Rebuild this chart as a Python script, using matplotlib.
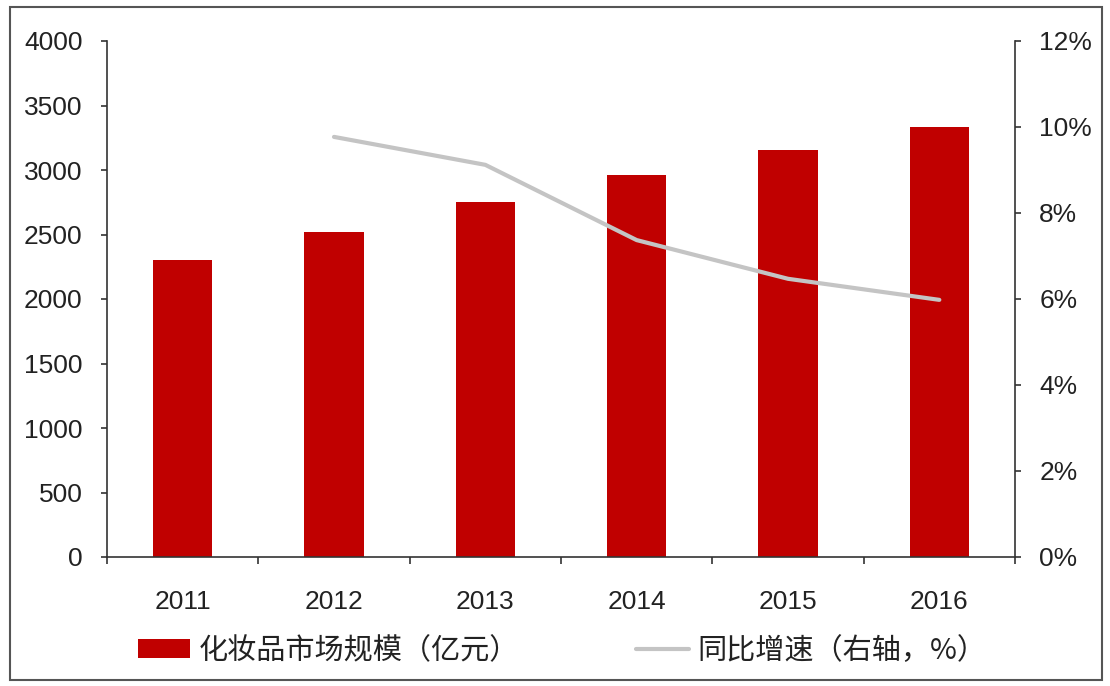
import matplotlib
matplotlib.use("Agg")
import matplotlib.pyplot as plt
from matplotlib.patches import Rectangle
from matplotlib.ticker import FuncFormatter

# données
annees = ["2011", "2012", "2013", "2014", "2015", "2016"]
marche = [2300, 2520, 2752, 2960, 3155, 3335]          # 亿元
annees_croiss = ["2012", "2013", "2014", "2015", "2016"]
croissance = [9.77, 9.12, 7.37, 6.47, 5.98]             # %

plt.rcParams['font.family'] = ['Liberation Sans', 'Noto Sans CJK SC', 'DejaVu Sans']

fig = plt.figure(figsize=(11.1, 6.86), dpi=100)
ax = fig.add_axes([107/1110, 1-557/686, (1015-107)/1110, (557-41)/686])

x = list(range(len(annees)))
barres = ax.bar(x, marche, width=0.39, color='#c00000', zorder=2,
                label='化妆品市场规模（亿元）')
ax.set_xlim(-0.5, 5.5)
ax.set_ylim(0, 4000)
ax.set_yticks(range(0, 4001, 500))
ax.set_xticks(x)
ax.set_xticklabels(annees)
ax.set_xticks([i + 0.5 for i in range(-1, 6)], minor=True)
ax.tick_params(axis='x', which='major', length=0, pad=24, labelsize=19, colors='#222222')
ax.tick_params(axis='x', which='minor', length=5, width=1.2, color='#333333', direction='out')
ax.tick_params(axis='y', length=4.5, width=1.2, color='#333333', pad=13, labelsize=19,
               labelcolor='#222222')
for s in ['top', 'right']:
    ax.spines[s].set_visible(False)
for s in ['left', 'bottom']:
    ax.spines[s].set_color('#333333')
    ax.spines[s].set_linewidth(1.2)

ax2 = ax.twinx()
xc = [annees.index(a) for a in annees_croiss]
ligne, = ax2.plot(xc, croissance, color='#c4c4c4', lw=3, zorder=3,
                  label='同比增速（右轴，%）', solid_capstyle='round')
ax2.set_ylim(0, 12)
ax2.set_yticks(range(0, 13, 2))
ax2.yaxis.set_major_formatter(FuncFormatter(lambda v, p: f"{int(v)}%"))
ax2.tick_params(axis='y', length=4.5, width=1.2, color='#333333', pad=13, labelsize=19,
                labelcolor='#222222')
for s in ['top', 'left', 'bottom']:
    ax2.spines[s].set_visible(False)
ax2.spines['right'].set_color('#333333')
ax2.spines['right'].set_linewidth(1.2)

leg = fig.legend([barres, ligne], ['化妆品市场规模（亿元）', '同比增速（右轴，%）'],
                 loc='center', bbox_to_anchor=(562/1110, 1-651/686), ncol=2,
                 frameon=False, prop={'family': ['Noto Sans CJK SC'], 'size': 21},
                 handlelength=1.8, handleheight=0.6, columnspacing=4.0, handletextpad=0.3)
for t in leg.get_texts():
    t.set_color('#222222')

fig.patches.append(Rectangle((10/1110, 1-680/686), 1092/1110, 673/686,
                             transform=fig.transFigure, fill=False,
                             edgecolor='#555555', lw=1.5))

fig.savefig("out.png", dpi=100)
